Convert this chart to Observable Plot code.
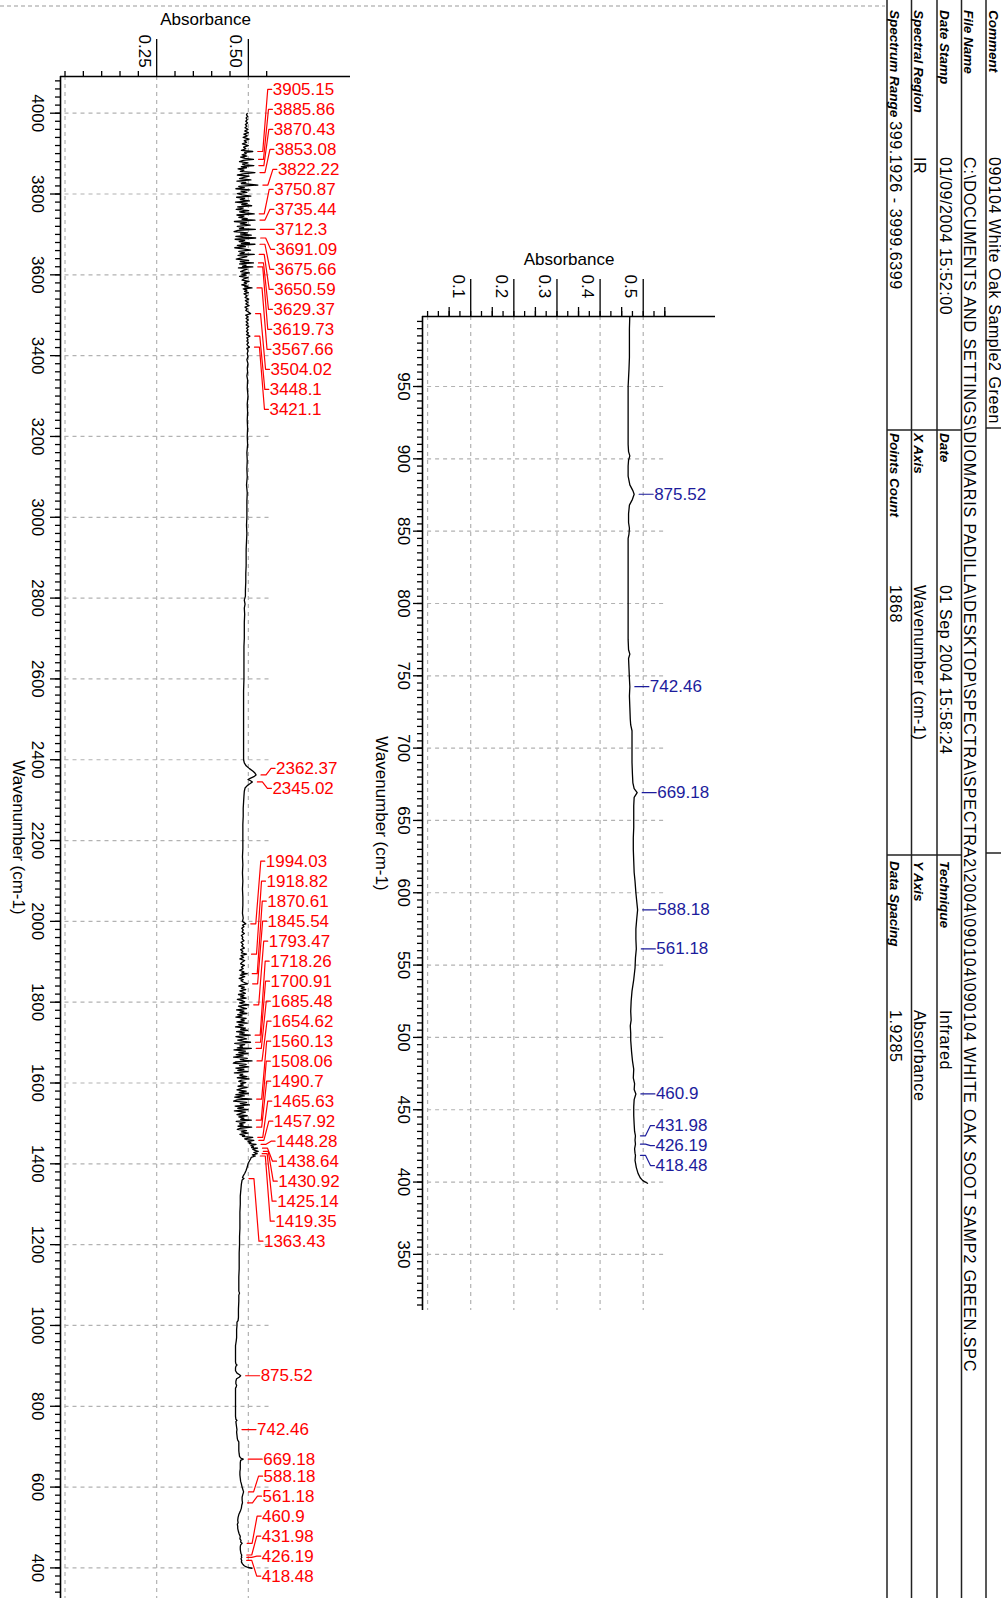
<!DOCTYPE html>
<html><head><meta charset="utf-8">
<script src="https://cdn.jsdelivr.net/npm/d3@7"></script>
<script src="https://cdn.jsdelivr.net/npm/@observablehq/plot@0.6"></script>
<style>
html,body{margin:0;padding:0;background:#fff;}
#page{position:relative;width:1001px;height:1598px;overflow:hidden;font-family:"Liberation Sans",Arial,sans-serif;}
</style></head><body><div id="page"></div>
<script>
// ---------- DATA ----------
// spectrum segments: [wavenumber (cm-1), absorbance]
const specA = [[3999.6,0.497],[3996,0.495],[3992,0.498],[3988,0.494],[3984,0.497],[3980,0.493],[3976,0.498],[3972,0.492],[3968,0.496],[3964,0.491],[3960,0.499],[3956,0.490],[3952,0.500],[3948,0.488],[3944,0.497],[3940,0.486],[3936,0.502],[3932,0.489],[3928,0.495],[3924,0.484],[3920,0.500],[3916,0.487],[3912,0.493],[3908,0.481],[3905.15,0.512],[3903,0.490],[3900,0.494],[3897,0.483],[3894,0.496],[3891,0.479],[3888,0.491],[3885.86,0.514],[3883,0.486],[3880,0.476],[3877,0.499],[3874,0.484],[3872,0.490],[3870.43,0.515],[3868,0.481],[3865,0.495],[3862,0.472],[3859,0.488],[3856,0.478],[3853.08,0.518],[3850,0.485],[3847,0.470],[3844,0.502],[3841,0.488],[3838,0.476],[3835,0.507],[3832,0.469],[3829,0.493],[3826,0.481],[3822.22,0.526],[3819,0.474],[3816,0.489],[3813,0.466],[3810,0.504],[3807,0.480],[3804,0.496],[3801,0.470],[3798,0.483],[3795,0.507],[3792,0.468],[3789,0.490],[3786,0.478],[3783,0.503],[3780,0.465],[3777,0.497],[3774,0.482],[3771,0.509],[3768,0.471],[3765,0.486],[3762,0.467],[3759,0.501],[3756,0.476],[3753,0.492],[3750.87,0.516],[3748,0.469],[3745,0.488],[3742,0.474],[3739,0.497],[3737,0.483],[3735.44,0.518],[3732,0.462],[3729,0.495],[3726,0.478],[3723,0.505],[3720,0.470],[3717,0.487],[3714,0.476],[3712.3,0.519],[3710,0.472],[3707,0.461],[3704,0.498],[3701,0.479],[3698,0.508],[3695,0.466],[3693,0.484],[3691.09,0.520],[3688,0.464],[3685,0.490],[3682,0.475],[3679,0.503],[3677,0.481],[3675.66,0.518],[3673,0.470],[3670,0.492],[3667,0.463],[3664,0.486],[3661,0.506],[3658,0.474],[3655,0.489],[3652,0.477],[3650.59,0.516],[3648,0.472],[3645,0.496],[3642,0.481],[3639,0.467],[3636,0.501],[3633,0.478],[3631,0.490],[3629.37,0.514],[3627,0.476],[3624,0.494],[3621,0.484],[3619.73,0.512],[3617,0.473],[3614,0.497],[3611,0.487],[3608,0.479],[3605,0.503],[3602,0.482],[3599,0.494],[3596,0.476],[3593,0.499],[3590,0.488],[3587,0.483],[3584,0.502],[3581,0.489],[3578,0.495],[3575,0.482],[3572,0.498],[3570,0.490],[3567.66,0.510],[3565,0.486],[3562,0.496],[3559,0.490],[3556,0.500],[3553,0.488],[3548,0.497],[3544,0.491],[3540,0.501],[3536,0.492],[3532,0.499],[3528,0.493],[3524,0.502],[3520,0.491],[3516,0.497],[3512,0.493],[3508,0.500],[3504.02,0.506],[3500,0.493],[3496,0.499],[3492,0.494],[3488,0.500],[3484,0.494],[3480,0.499],[3476,0.494],[3472,0.501],[3468,0.495],[3464,0.499],[3460,0.495],[3456,0.500],[3452,0.495],[3448.1,0.504],[3444,0.496],[3440,0.499],[3436,0.496],[3432,0.500],[3428,0.496],[3424,0.499],[3421.1,0.503],[3418,0.496],[3412,0.499],[3405,0.497],[3398,0.499],[3390,0.496],[3380,0.499],[3370,0.497],[3360,0.498],[3350,0.496]];
const specB = [[3340,0.498],[3320,0.497],[3300,0.499],[3280,0.497],[3260,0.498],[3240,0.497],[3220,0.498],[3200,0.497],[3180,0.498],[3160,0.496],[3140,0.497],[3120,0.496],[3100,0.497],[3080,0.495],[3060,0.497],[3040,0.496],[3020,0.496],[3000,0.496],[2980,0.495],[2960,0.496],[2940,0.495],[2920,0.494],[2900,0.494],[2880,0.494],[2860,0.493],[2840,0.493],[2820,0.492],[2805,0.492],[2795,0.489],[2785,0.491],[2775,0.489],[2760,0.490],[2740,0.489],[2720,0.489],[2700,0.489],[2680,0.488],[2650,0.488],[2620,0.488],[2600,0.488],[2570,0.487],[2540,0.487],[2510,0.487],[2480,0.487],[2450,0.487],[2420,0.487],[2400,0.487],[2392,0.489],[2385,0.494],[2378,0.503],[2372,0.512],[2367,0.518],[2362.37,0.521],[2358,0.515],[2354,0.505],[2351,0.499],[2348,0.506],[2345.02,0.511],[2341,0.505],[2336,0.497],[2330,0.491],[2322,0.489],[2310,0.488],[2295,0.487],[2280,0.486],[2260,0.486],[2240,0.485],[2220,0.485],[2200,0.485],[2180,0.485],[2160,0.484],[2140,0.485],[2120,0.484],[2100,0.485],[2080,0.484],[2060,0.485],[2040,0.485],[2020,0.484],[2008,0.486],[2000,0.484]];
const specC = [[1994.03,0.493],[1991,0.484],[1987,0.488],[1983,0.482],[1979,0.486],[1974,0.483],[1970,0.489],[1965,0.481],[1961,0.485],[1957,0.483],[1952,0.488],[1948,0.480],[1943,0.486],[1939,0.482],[1934,0.489],[1930,0.479],[1926,0.485],[1922,0.481],[1918.82,0.495],[1915,0.480],[1911,0.487],[1907,0.477],[1903,0.490],[1899,0.483],[1895,0.479],[1891,0.489],[1887,0.481],[1883,0.486],[1879,0.476],[1875,0.488],[1872,0.482],[1870.61,0.497],[1867,0.478],[1863,0.490],[1859,0.475],[1856,0.486],[1853,0.480],[1850,0.486],[1845.54,0.498],[1843,0.482],[1840,0.474],[1837,0.489],[1834,0.481],[1831,0.493],[1828,0.477],[1825,0.485],[1822,0.492],[1819,0.473],[1816,0.488],[1813,0.479],[1810,0.494],[1807,0.470],[1804,0.483],[1801,0.490],[1798,0.476],[1795,0.487],[1793.47,0.501],[1790,0.473],[1787,0.482],[1784,0.495],[1781,0.468],[1778,0.488],[1775,0.477],[1772,0.496],[1769,0.471],[1766,0.483],[1763,0.466],[1760,0.494],[1757,0.480],[1754,0.489],[1751,0.469],[1748,0.497],[1745,0.474],[1742,0.486],[1739,0.465],[1736,0.492],[1733,0.479],[1730,0.498],[1727,0.468],[1724,0.489],[1721,0.476],[1718.26,0.505],[1715,0.466],[1712,0.483],[1709,0.495],[1706,0.471],[1703,0.487],[1700.91,0.506],[1698,0.463],[1695,0.490],[1692,0.477],[1689,0.484],[1687,0.470],[1685.48,0.508],[1682,0.461],[1679,0.492],[1676,0.474],[1673,0.499],[1670,0.467],[1667,0.486],[1664,0.460],[1661,0.497],[1658,0.478],[1656,0.488],[1654.62,0.510],[1652,0.465],[1649,0.459],[1646,0.494],[1643,0.476],[1640,0.501],[1637,0.466],[1634,0.488],[1631,0.471],[1628,0.499],[1625,0.462],[1622,0.485],[1619,0.477],[1616,0.496],[1613,0.470],[1610,0.502],[1607,0.481],[1604,0.474],[1601,0.493],[1598,0.479],[1595,0.486],[1592,0.472],[1589,0.497],[1586,0.480],[1583,0.469],[1580,0.494],[1577,0.475],[1574,0.500],[1571,0.466],[1568,0.489],[1565,0.463],[1562,0.484],[1560.13,0.509],[1558,0.468],[1555,0.460],[1552,0.495],[1549,0.478],[1546,0.503],[1543,0.464],[1540,0.487],[1537,0.471],[1534,0.499],[1531,0.462],[1528,0.492],[1525,0.480],[1522,0.469],[1519,0.497],[1516,0.474],[1513,0.488],[1510,0.479],[1508.06,0.508],[1505,0.467],[1502,0.491],[1499,0.476],[1496,0.486],[1493,0.472],[1490.7,0.509],[1488,0.478],[1485,0.470],[1482,0.495],[1479,0.481],[1476,0.499],[1473,0.477],[1470,0.490],[1468,0.484],[1465.63,0.512],[1462,0.490],[1460,0.496],[1457.92,0.515],[1455,0.499],[1452,0.507],[1450,0.503],[1448.28,0.521],[1445,0.507],[1442,0.514],[1440,0.509],[1438.64,0.525],[1436,0.512],[1433,0.518],[1430.92,0.527],[1428,0.515],[1425.14,0.524],[1422,0.511],[1419.35,0.519],[1416,0.508],[1412,0.506],[1407,0.503],[1400,0.499],[1392,0.497],[1384,0.494],[1376,0.490],[1370,0.486],[1366,0.484],[1363.43,0.488],[1360,0.483],[1350,0.481],[1340,0.480],[1330,0.479]];
const specD = [[1320,0.478],[1300,0.478],[1280,0.477],[1260,0.477],[1240,0.477],[1220,0.476],[1200,0.476],[1180,0.475],[1160,0.475],[1140,0.475],[1120,0.474],[1100,0.474],[1085,0.474],[1080,0.476],[1075,0.474],[1060,0.474],[1040,0.473],[1020,0.473],[1012,0.472],[1008,0.469]];
const specE = [[1000,0.469],[990,0.468],[980,0.468],[970,0.468],[962,0.467],[956,0.466],[950,0.465],[940,0.465],[930,0.465],[920,0.465],[910,0.465],[905,0.466],[902,0.469],[899,0.466],[895,0.465],[888,0.465],[882,0.469],[878,0.476],[875.52,0.479],[872,0.475],[868,0.468],[862,0.466],[856,0.466],[852,0.468],[848,0.467],[845,0.465],[835,0.465],[820,0.465],[805,0.465],[790,0.465],[775,0.465],[768,0.466],[765,0.469],[762,0.466],[755,0.467],[748,0.468],[742.46,0.469],[736,0.468],[728,0.469],[720,0.470],[716,0.471],[712,0.474],[705,0.474],[698,0.474],[690,0.474],[682,0.475],[676,0.476],[672,0.479],[669.18,0.486],[666,0.479],[660,0.478],[652,0.478],[645,0.478],[638,0.477],[630,0.477],[622,0.478],[614,0.479],[608,0.481],[600,0.483],[594,0.485],[588.18,0.487],[582,0.485],[575,0.483],[568,0.483],[561.18,0.484],[555,0.482],[548,0.481],[540,0.478],[532,0.474],[525,0.472],[518,0.471],[512,0.472],[508,0.470],[503,0.471],[498,0.471],[490,0.473],[484,0.475],[478,0.478],[472,0.477],[468,0.480],[464,0.479],[460.9,0.483],[457,0.479],[452,0.478],[446,0.478],[440,0.479],[435,0.480],[431.98,0.482],[429,0.481],[426.19,0.482],[423,0.480],[420,0.481],[418.48,0.482],[415,0.481],[410,0.484],[406,0.488],[403,0.493],[401,0.499],[399.19,0.510]];

// labelled peaks (cm-1)
const redPeaks = [3905.15,3885.86,3870.43,3853.08,3822.22,3750.87,3735.44,3712.3,3691.09,3675.66,3650.59,3629.37,3619.73,3567.66,3504.02,3448.1,3421.1,2362.37,2345.02,1994.03,1918.82,1870.61,1845.54,1793.47,1718.26,1700.91,1685.48,1654.62,1560.13,1508.06,1490.7,1465.63,1457.92,1448.28,1438.64,1430.92,1425.14,1419.35,1363.43,875.52,742.46,669.18,588.18,561.18,460.9,431.98,426.19,418.48];
const bluePeaks = [875.52,742.46,669.18,588.18,561.18,460.9,431.98,426.19,418.48];

// axis ticks
const leftXMajor = [0.25, 0.5];
const leftXMinor = [0, 0.05, 0.1, 0.15, 0.2, 0.3, 0.35, 0.4, 0.45, 0.55];
const leftYMajor = [4000,3800,3600,3400,3200,3000,2800,2600,2400,2200,2000,1800,1600,1400,1200,1000,800,600,400];
const rightXMajor = [0.1, 0.2, 0.3, 0.4, 0.5];
const rightXMid = [0.05, 0.15, 0.25, 0.35, 0.45, 0.55];
const rightYMajor = [950,900,850,800,750,700,650,600,550,500,450,400,350];

// info table
const infoLabels = [["Comment"], ["File Name"], ["Date Stamp","Date","Technique"], ["Spectral Region","X Axis","Y Axis"], ["Spectrum Range","Points Count","Data Spacing"]];
const infoValues = [["090104 White Oak Sample2 Green"],
  ["C:\\DOCUMENTS AND SETTINGS\\DIOMARIS PADILLA\\DESKTOP\\SPECTRA\\SPECTRA2\\2004\\090104\\090104 WHITE OAK SOOT SAMP2 GREEN.SPC"],
  ["01/09/2004 15:52:00","01 Sep 2004 15:58:24","Infrared"],
  ["IR","Wavenumber (cm-1)","Absorbance"],
  ["399.1926 - 3999.6399","1868","1.9285"]];

// ---------- DRAWING ----------
const FONT = '"Liberation Sans", Arial, sans-serif';
const page = document.getElementById("page");
const spectrum = [].concat(specA, specB, specC, specD, specE).map(([wn, abs]) => ({wn, abs}));

function peakAbs(p) {
  let best = spectrum[0];
  for (const d of spectrum) if (Math.abs(d.wn - p) < Math.abs(best.wn - p)) best = d;
  return best.abs;
}

// stack labels with a fixed gap; each group is centred on the span of its peaks
function dodge(ys, gap, minGap, lo, hi) {
  const place = c => { let s = (c.min + c.max) / 2 - (c.n - 1) * gap / 2; s = Math.min(s, hi - (c.n - 1) * gap); s = Math.max(s, lo); c.start = s; };
  let cl = ys.map((y, i) => ({min: y, max: y, n: 1, first: i}));
  cl.forEach(place);
  let merged = true;
  while (merged) {
    merged = false;
    for (let i = 0; i < cl.length - 1; i++) {
      const a = cl[i], b = cl[i + 1];
      if (a.start + (a.n - 1) * gap + minGap > b.start) {
        const c = {min: Math.min(a.min, b.min), max: Math.max(a.max, b.max), n: a.n + b.n, first: a.first};
        place(c); cl.splice(i, 2, c); merged = true; break;
      }
    }
  }
  const out = new Array(ys.length);
  for (const c of cl) for (let k = 0; k < c.n; k++) out[c.first + k] = c.start + k * gap;
  return out;
}

function spectrumPlot(cfg) {
  const {width, height, mL, mR, mT, mB, xDomain, yDomain} = cfg;
  const xs = Plot.scale({x: {domain: xDomain, range: [mL, width - mR]}});
  const ys = Plot.scale({y: {domain: yDomain, range: [height - mB, mT]}});
  const pk = cfg.peaks.map(wn => ({wn, abs: peakAbs(wn)}));
  const py = pk.map(d => ys.apply(d.wn));
  const ly = dodge(py, 20, 17, mT + 10, height - 12);
  const leaders = [], labels = [];
  pk.forEach((d, i) => {
    const xa = xs.apply(d.abs);
    [[xa + 5, py[i]], [xa + 10, py[i]], [xa + 15, ly[i]], [xa + 19, ly[i]]]
      .forEach(([px, pyy]) => leaders.push({id: i, x: xs.invert(px), y: ys.invert(pyy)}));
    labels.push({x: xs.invert(xa + 20), y: ys.invert(ly[i]), text: String(d.wn)});
  });
  const grid = {stroke: "#b2b2b2", strokeWidth: 1.2, strokeDasharray: "4,4"};
  const p = Plot.plot({
    width, height, marginLeft: mL, marginRight: mR, marginTop: mT, marginBottom: mB,
    x: {domain: xDomain, label: null},
    y: {domain: yDomain, label: null},
    style: {fontFamily: FONT, fontSize: "17px", background: "transparent", overflow: "visible", color: "#000"},
    marks: [
      Plot.ruleY(cfg.gridY, {x1: 0, x2: cfg.gridXEnd, ...grid}),
      Plot.ruleX(cfg.gridX, grid),
      Plot.ruleY([yDomain[1]], {stroke: "#000", strokeWidth: 1.6}),
      Plot.ruleX([xDomain[0]], {stroke: "#000", strokeWidth: 1.6}),
      Plot.axisX(cfg.xMinor, {anchor: "top", tickSize: 6, tickFormat: () => "", strokeWidth: 1.3}),
      ...(cfg.xMid ? [Plot.axisX(cfg.xMid, {anchor: "top", tickSize: 10, tickFormat: () => "", strokeWidth: 1.3})] : []),
      Plot.axisX(cfg.xMajor, {anchor: "top", tickSize: 38, tickFormat: () => "", strokeWidth: 1.3}),
      Plot.text(cfg.xMajor, {x: d => d, frameAnchor: "top", text: cfg.xFmt, rotate: 90, textAnchor: "start", lineAnchor: "middle", dx: -12.5, dy: -42, fontSize: 17}),
      Plot.axisY(cfg.yMinor, {anchor: "left", tickSize: 5, tickFormat: () => "", strokeWidth: 1.3}),
      Plot.axisY(cfg.yMajor, {anchor: "left", tickSize: cfg.yTick, tickRotate: 90, tickPadding: cfg.yPad, tickFormat: d => String(d), fontSize: 17, strokeWidth: 1.3}),
      Plot.text(["Wavenumber (cm-1)"], {frameAnchor: "left", rotate: 90, textAnchor: "middle", lineAnchor: "middle", dx: cfg.yTitleDx, fontSize: 17}),
      Plot.text(["Absorbance"], {frameAnchor: "top", textAnchor: "middle", lineAnchor: "middle", dy: -57, fontSize: 17}),
      Plot.line(spectrum, {x: "abs", y: "wn", stroke: "#000", strokeWidth: 1.3, clip: true}),
      Plot.line(leaders, {x: "x", y: "y", z: "id", stroke: cfg.color, strokeWidth: 1.2}),
      Plot.text(labels, {x: "x", y: "y", text: "text", textAnchor: "start", fill: cfg.color, fontSize: 17})
    ]
  });
  p.style.position = "absolute";
  p.style.left = cfg.left + "px";
  p.style.top = cfg.top + "px";
  p.style.maxWidth = "none";
  page.appendChild(p);
}

spectrumPlot({
  left: 0, top: 0, width: 360, height: 1598, mL: 60, mR: 10, mT: 76, mB: 0,
  xDomain: [-0.0123, 0.7786], yDomain: [324.3, 4090.8],
  gridX: [0, 0.25, 0.5], gridY: leftYMajor, gridXEnd: 0.56,
  xMajor: leftXMajor, xMinor: leftXMinor, xFmt: d => d.toFixed(2),
  yMajor: leftYMajor, yMinor: d3.range(340, 4090, 20), yTick: 10, yPad: 6, yTitleDx: -42,
  peaks: redPeaks, color: "#ff0000"
});

spectrumPlot({
  left: 370, top: 230, width: 360, height: 1100, mL: 52, mR: 15, mT: 86, mB: 20,
  xDomain: [-0.0118, 0.6676], yDomain: [311.2, 998.4],
  gridX: [0, 0.1, 0.2, 0.3, 0.4, 0.5], gridY: rightYMajor, gridXEnd: 0.555,
  xMajor: rightXMajor, xMid: rightXMid, xMinor: d3.range(0, 0.56, 0.025), xFmt: d => String(d),
  yMajor: rightYMajor, yMinor: d3.range(315, 998, 5), yTick: 9, yPad: 3, yTitleDx: -41,
  peaks: bluePeaks, color: "#1c1c9c"
});

// info table (rotated) + top dashed rule
const tsvg = d3.create("svg").attr("width", 1001).attr("height", 1598)
  .style("position", "absolute").style("left", "0px").style("top", "0px")
  .style("font-family", FONT);
page.appendChild(tsvg.node());
tsvg.append("line").attr("x1", 0).attr("x2", 885).attr("y1", 6).attr("y2", 6)
  .attr("stroke", "#9a9a9a").attr("stroke-width", 1.2).attr("stroke-dasharray", "4,3");
const g = tsvg.append("g").attr("transform", "translate(1011,0) rotate(90)");
const rowEdges = [0, 25, 49.5, 74, 99.5, 124];
rowEdges.slice(1).forEach(b => g.append("line").attr("x1", -5).attr("x2", 1610).attr("y1", b).attr("y2", b)
  .attr("stroke", "#222").attr("stroke-width", 1.5));
[[428, 0, 1], [853, 0, 1], [430, 2, 5], [855, 2, 5]].forEach(([a, r0, r1]) =>
  g.append("line").attr("x1", a).attr("x2", a).attr("y1", rowEdges[r0]).attr("y2", rowEdges[r1])
    .attr("stroke", "#222").attr("stroke-width", 1.5));
const labelA = [10, 433, 861], valueA = [157, 585, 1010];
infoLabels.forEach((row, r) => {
  const base = rowEdges[r + 1] - 2.5;
  row.forEach((lab, s) => {
    const t = g.append("text").attr("x", labelA[s]).attr("y", base)
      .attr("font-size", 13.5).attr("font-weight", "bold").attr("font-style", "italic").text(lab);
    let va = valueA[s];
    if (lab === "Spectrum Range") va = labelA[s] + t.node().getComputedTextLength() + 4;
    g.append("text").attr("x", va).attr("y", base).attr("font-size", 16)
      .attr("letter-spacing", r === 1 ? "0.95px" : "0.6px").text(infoValues[r][s]);
  });
});
</script></body></html>
